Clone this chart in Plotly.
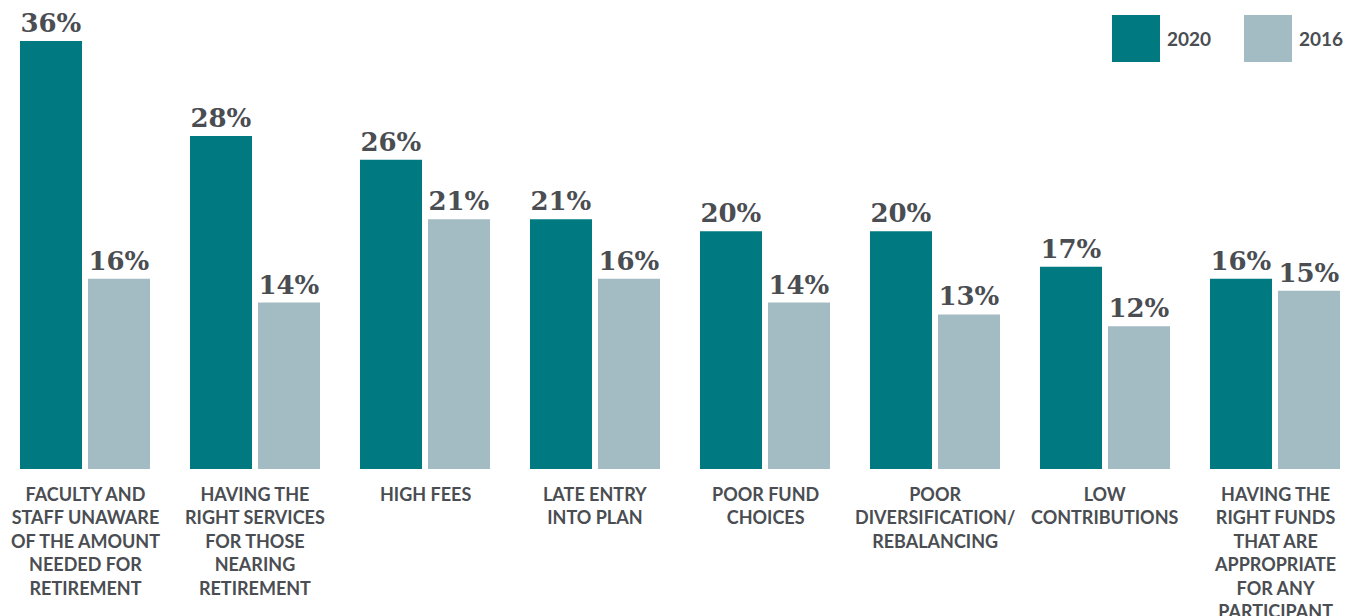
import plotly.graph_objects as go

categories = [
    "FACULTY AND<br>STAFF UNAWARE<br>OF THE AMOUNT<br>NEEDED FOR<br>RETIREMENT",
    "HAVING THE<br>RIGHT SERVICES<br>FOR THOSE<br>NEARING<br>RETIREMENT",
    "HIGH FEES",
    "LATE ENTRY<br>INTO PLAN",
    "POOR FUND<br>CHOICES",
    "POOR<br>DIVERSIFICATION/<br>REBALANCING",
    "LOW<br>CONTRIBUTIONS",
    "HAVING THE<br>RIGHT FUNDS<br>THAT ARE<br>APPROPRIATE<br>FOR ANY<br>PARTICIPANT",
]
values_2020 = [36, 28, 26, 21, 20, 20, 17, 16]
values_2016 = [16, 14, 21, 16, 14, 13, 12, 15]
series_names = ["2020", "2016"]

TEAL = "#007a80"
GREY = "#a3bbc2"
TEXT = "#4a4d52"
W, H = 1352, 616
BASE = 469  # pixel row of the bar baseline

x = list(range(len(categories)))
label_font = dict(family="DejaVu Serif", size=26, color=TEXT)

fig = go.Figure()
for name, vals, col in [(series_names[0], values_2020, TEAL),
                        (series_names[1], values_2016, GREY)]:
    fig.add_trace(go.Bar(
        x=x, y=vals, name=name, marker=dict(color=col, line=dict(width=0)),
        text=[f"<b>{v}%</b>" for v in vals], textposition="outside",
        textfont=label_font, cliponaxis=False, showlegend=False,
    ))

# category labels beneath each group
for i, c in enumerate(categories):
    fig.add_annotation(
        x=i, y=0, xref="x", yref="y", text=f"<b>{c}</b>", showarrow=False,
        yanchor="top", xanchor="center", yshift=-12, align="center",
        font=dict(family="Lato", size=18, color=TEXT),
    )

# legend swatches and labels
def px_x(p):
    return p / W

def px_y(p):
    return 1 - p / BASE

for (x0, x1, col, lab) in [(1112, 1160, TEAL, series_names[0]),
                           (1244, 1292, GREY, series_names[1])]:
    fig.add_shape(type="rect", xref="paper", yref="paper",
                  x0=px_x(x0), x1=px_x(x1), y0=px_y(62), y1=px_y(15),
                  fillcolor=col, line=dict(width=0))
    fig.add_annotation(x=px_x(x1 + 5), y=px_y(39), xref="paper", yref="paper",
                       text=f"<b>{lab}</b>", showarrow=False,
                       xanchor="left", yanchor="middle",
                       font=dict(family="Lato", size=19, color=TEXT))

fig.update_layout(
    width=W, height=H,
    margin=dict(l=0, r=0, t=0, b=H - BASE),
    paper_bgcolor="white", plot_bgcolor="white",
    barmode="group", bargap=0.2, bargroupgap=0.088,
    xaxis=dict(range=[-0.5, -0.5 + W / 170], showticklabels=False,
               showgrid=False, zeroline=False, showline=False, ticks=""),
    yaxis=dict(range=[0, BASE / 11.89], visible=False, showgrid=False,
               zeroline=False),
    uniformtext=dict(mode=False),
)

fig.write_html("out.html")
